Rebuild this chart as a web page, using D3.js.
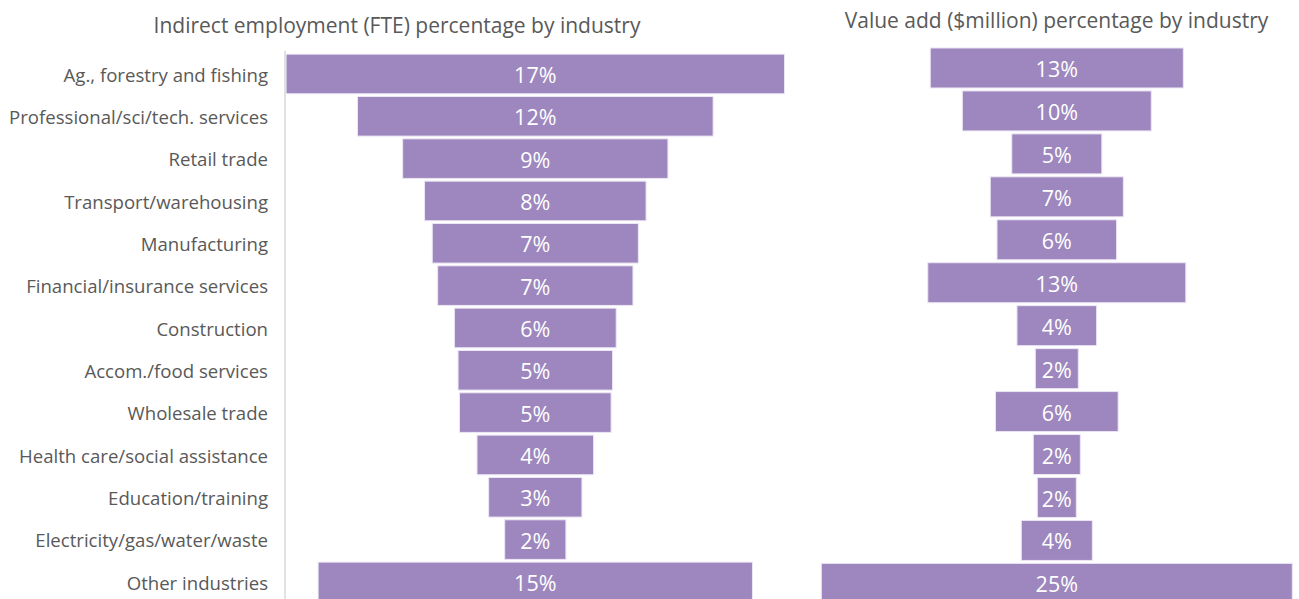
<!DOCTYPE html>
<html>
<head>
<meta charset="utf-8">
<script src="https://cdn.jsdelivr.net/npm/d3@7"></script>
<style>
  html, body { margin: 0; padding: 0; background: #ffffff; }
  svg { display: block; font-family: "Open Sans", "Noto Sans", sans-serif; }
</style>
</head>
<body>
<svg id="chart" width="1299" height="599"></svg>
<script>
// Industry categories, top to bottom
const industries = [
  "Ag., forestry and fishing",
  "Professional/sci/tech. services",
  "Retail trade",
  "Transport/warehousing",
  "Manufacturing",
  "Financial/insurance services",
  "Construction",
  "Accom./food services",
  "Wholesale trade",
  "Health care/social assistance",
  "Education/training",
  "Electricity/gas/water/waste",
  "Other industries"
];

// Indirect employment (FTE) share, %
const employmentShare = [17.1, 12.2, 9.1, 7.6, 7.07, 6.7, 5.55, 5.3, 5.2, 4.0, 3.2, 2.1, 14.9];

// Value add ($million) share, %
const valueAddShare = [13.18, 9.84, 4.69, 6.93, 6.23, 13.44, 4.15, 2.24, 6.39, 2.45, 2.03, 3.7, 24.53];

const titles = [
  "Indirect employment (FTE) percentage by industry",
  "Value add ($million) percentage by industry"
];

const barColor = "#9d87be";
const barStroke = "#ece6f4";
const textColor = "#595959";
const fmt = v => d3.format(".0f")(v) + "%";

const svg = d3.select("#chart");

// Draws one centred (funnel-style) bar panel
function drawPanel(opts) {
  const g = svg.append("g");

  const y = d3.scaleBand()
    .domain(industries)
    .range([opts.top, opts.top + opts.step * industries.length])
    .paddingInner(1 - opts.barH / opts.step)
    .paddingOuter((1 - opts.barH / opts.step) / 2);

  const x = d3.scaleLinear()
    .domain([-10, 10])
    .range([opts.cx - 10 * opts.pxPerPct, opts.cx + 10 * opts.pxPerPct]);

  const rows = industries.map((name, i) => ({ name, value: opts.values[i] }));

  g.selectAll("rect.bar")
    .data(rows)
    .join("rect")
    .attr("class", "bar")
    .attr("x", d => x(-d.value / 2))
    .attr("y", d => y(d.name))
    .attr("width", d => x(d.value / 2) - x(-d.value / 2))
    .attr("height", y.bandwidth())
    .attr("fill", barColor)
    .attr("stroke", barStroke)
    .attr("stroke-width", 1);

  g.selectAll("text.val")
    .data(rows)
    .join("text")
    .attr("class", "val")
    .attr("x", x(0))
    .attr("y", d => y(d.name) + y.bandwidth() / 2)
    .attr("dy", "0.42em")
    .attr("text-anchor", "middle")
    .attr("fill", "#ffffff")
    .attr("font-size", 21.5)
    .text(d => fmt(d.value));

  g.append("text")
    .attr("x", opts.titleX)
    .attr("y", opts.titleY)
    .attr("text-anchor", "middle")
    .attr("fill", textColor)
    .attr("font-size", 21)
    .text(opts.title);

  if (opts.showAxis) {
    const axis = d3.axisLeft(y).tickSize(0).tickPadding(17);
    const ag = g.append("g")
      .attr("transform", `translate(${opts.axisX},0)`)
      .call(axis);
    ag.select(".domain").remove();
    ag.selectAll("text")
      .attr("fill", textColor)
      .attr("font-size", 18.6)
      .attr("dy", "0.42em")
      .attr("font-family", "\"Open Sans\", sans-serif");
    g.append("line")
      .attr("x1", opts.axisX).attr("x2", opts.axisX)
      .attr("y1", opts.top - 2).attr("y2", 599)
      .attr("stroke", "#d9d9d9")
      .attr("stroke-width", 1.5);
  }
}

drawPanel({
  values: employmentShare,
  title: titles[0],
  titleX: 397, titleY: 33,
  top: 52.8, step: 42.33, barH: 39.6,
  cx: 535.3, pxPerPct: 29.15,
  showAxis: true, axisX: 285
});

drawPanel({
  values: valueAddShare,
  title: titles[1],
  titleX: 1056.5, titleY: 28,
  top: 46.5, step: 42.95, barH: 40,
  cx: 1056.8, pxPerPct: 19.2,
  showAxis: false
});
</script>
</body>
</html>
